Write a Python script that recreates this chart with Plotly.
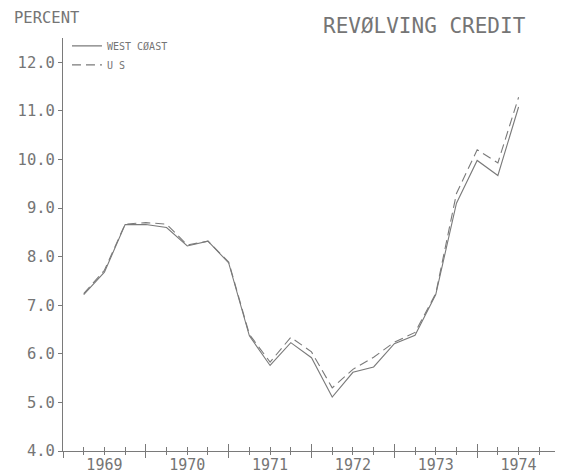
import plotly.graph_objects as go

# Quarterly observations (end of quarter)
quarters = [1969.25, 1969.5, 1969.75, 1970.0, 1970.25, 1970.5, 1970.75, 1971.0,
            1971.25, 1971.5, 1971.75, 1972.0, 1972.25, 1972.5, 1972.75, 1973.0,
            1973.25, 1973.5, 1973.75, 1974.0, 1974.25, 1974.5]
west_coast = [7.22, 7.68, 8.66, 8.66, 8.60, 8.22, 8.32, 7.87, 6.37, 5.76, 6.23,
              5.92, 5.11, 5.62, 5.73, 6.21, 6.38, 7.22, 9.10, 9.98, 9.67, 11.08]
us = [7.24, 7.72, 8.67, 8.70, 8.67, 8.24, 8.32, 7.89, 6.40, 5.83, 6.34,
      6.04, 5.30, 5.68, 5.93, 6.24, 6.44, 7.24, 9.30, 10.20, 9.93, 11.28]

year_label_pos = [1969.5, 1970.5, 1971.5, 1972.5, 1973.5, 1974.5]
year_labels = ["1969", "1970", "1971", "1972", "1973", "1974"]
y_ticks = [4, 5, 6, 7, 8, 9, 10, 11, 12]

FONT = "DejaVu Sans Mono"
INK = "#757575"
LINE = "#7a7a7a"

fig = go.Figure()
fig.add_trace(go.Scatter(x=quarters, y=west_coast, mode="lines", name="WEST CØAST",
                         line=dict(color=LINE, width=1.1)))
fig.add_trace(go.Scatter(x=quarters, y=us, mode="lines", name="U S",
                         line=dict(color=LINE, width=1.1, dash="9px,5px")))
# helper (empty) traces so the overlay axes are drawn
fig.add_trace(go.Scatter(x=[], y=[], xaxis="x2", showlegend=False, hoverinfo="skip"))
fig.add_trace(go.Scatter(x=[], y=[], xaxis="x3", showlegend=False, hoverinfo="skip"))

xr = [1969, 1975]
# page body has an 8px margin, so the figure is sized to fit inside the window
fig.update_layout(
    width=555, height=467,
    margin=dict(l=55, r=3, t=30, b=24, autoexpand=False),
    plot_bgcolor="white", paper_bgcolor="white",
    font=dict(family=FONT, color=INK),
    showlegend=True,
    legend=dict(x=0.008, y=1.016, xanchor="left", yanchor="top",
                font=dict(family=FONT, size=10, color=INK),
                bgcolor="rgba(0,0,0,0)", tracegroupgap=0, itemwidth=30),
    xaxis=dict(range=xr, showline=True, linecolor=LINE, linewidth=1, automargin=False,
               ticks="outside", tick0=1969, dtick=1, ticklen=6, tickcolor=LINE,
               minor=dict(ticks="outside", tick0=1969, dtick=0.25, ticklen=3, tickcolor=LINE),
               showticklabels=False, showgrid=False, zeroline=False),
    xaxis2=dict(range=xr, overlaying="x", anchor="y", showline=False, automargin=False,
                ticks="inside", tick0=1969, dtick=1, ticklen=7, tickcolor=LINE,
                minor=dict(ticks="inside", tick0=1969, dtick=0.25, ticklen=4, tickcolor=LINE),
                showticklabels=False, showgrid=False, zeroline=False),
    xaxis3=dict(range=xr, overlaying="x", anchor="y", showline=False, automargin=False,
                ticks="outside", ticklen=0, tickcolor="rgba(0,0,0,0)",
                tickvals=year_label_pos, ticktext=year_labels,
                tickfont=dict(family=FONT, size=15, color=INK),
                showgrid=False, zeroline=False),
    yaxis=dict(range=[4, 12.5], showline=True, linecolor=LINE, linewidth=1, automargin=False,
               ticks="outside", ticklen=4, tickcolor=LINE,
               tickvals=y_ticks, tickformat=".1f",
               tickfont=dict(family=FONT, size=15.5, color=INK),
               showgrid=False, zeroline=False),
    annotations=[
        dict(text="PERCENT", xref="paper", yref="paper", x=-0.1, y=1.0715,
             xanchor="left", yanchor="top", showarrow=False, borderpad=0,
             font=dict(family=FONT, size=15.5, color=INK)),
        dict(text="REVØLVING CREDIT", xref="paper", yref="paper", x=0.728, y=1.028,
             xanchor="center", yanchor="middle", showarrow=False,
             font=dict(family=FONT, size=21, color=INK)),
    ],
)

fig.write_html("out.html")
